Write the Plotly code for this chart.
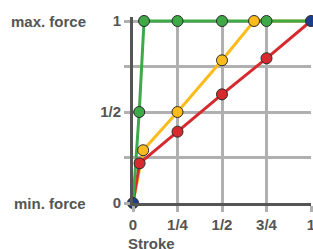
import plotly.graph_objects as go

# Data
stroke_green = [0, 0.035, 0.062, 0.25, 0.5, 0.75, 1]
force_green = [0, 0.5, 1, 1, 1, 1, 1]
stroke_yellow = [0, 0.057, 0.25, 0.5, 0.68, 1]
force_yellow = [0, 0.29, 0.5, 0.784, 1, 1]
stroke_red = [0, 0.037, 0.25, 0.5, 0.75, 1]
force_red = [0, 0.218, 0.392, 0.597, 0.795, 1]
stroke_blue = [0, 1]
force_blue = [0, 1]

tick_vals = [0, 0.25, 0.5, 0.75, 1]
x_tick_text = ["0", "1/4", "1/2", "3/4", "1"]
y_tick_text = ["0", "", "1/2", "", "1"]

GREEN = "#3daa47"
YELLOW = "#fbbb1b"
RED = "#d62a2f"
BLUE = "#1f3d8f"
TXT = "#555555"
GRID = "#b0b0b0"
FONT = dict(family="Liberation Sans, Arial, sans-serif", size=15, color=TXT, weight="bold")

fig = go.Figure()

# lines
for xs, ys, c in [(stroke_yellow, force_yellow, YELLOW),
                  (stroke_red, force_red, RED),
                  (stroke_green, force_green, GREEN)]:
    fig.add_trace(go.Scatter(x=xs, y=ys, mode="lines", line=dict(color=c, width=3),
                             hoverinfo="skip", showlegend=False))

# markers
for xs, ys, c in [(stroke_green[1:-1], force_green[1:-1], GREEN),
                  (stroke_yellow[1:-1], force_yellow[1:-1], YELLOW),
                  (stroke_red[1:-1], force_red[1:-1], RED),
                  (stroke_blue, force_blue, BLUE)]:
    fig.add_trace(go.Scatter(x=xs, y=ys, mode="markers", cliponaxis=False,
                             marker=dict(color=c, size=11, line=dict(color="#2a2a2a", width=1)),
                             showlegend=False))

# figure is 2px wider than the window; the page hides the overflow
W, H = 315, 249
L, T, B = 133, 17, 46
PW = W - L
PH = H - T - B
unit = 182.0

fig.update_layout(
    width=W, height=H,
    margin=dict(l=L, r=0, t=T, b=B, pad=0),
    plot_bgcolor="white", paper_bgcolor="white",
    font=FONT,
    xaxis=dict(range=[0, PW / unit], tickvals=tick_vals, ticktext=x_tick_text,
               showgrid=True, gridcolor=GRID, gridwidth=2.5, zeroline=False,
               showline=True, linecolor=TXT, linewidth=3,
               ticks="outside", ticklen=6, tickwidth=2.5, tickcolor=GRID,
               tickfont=FONT, ticklabeloverflow="allow", fixedrange=True),
    yaxis=dict(range=[0, PH / unit], tickvals=tick_vals, ticktext=y_tick_text,
               showgrid=True, gridcolor=GRID, gridwidth=2.5, zeroline=False,
               showline=True, linecolor=TXT, linewidth=3,
               ticks="outside", ticklen=6, tickwidth=2.5, tickcolor=GRID,
               tickfont=FONT, fixedrange=True),
    annotations=[
        dict(text="max. force", xref="paper", yref="y", x=-46 / PW, y=1,
             xanchor="right", yanchor="middle", showarrow=False, font=FONT),
        dict(text="min. force", xref="paper", yref="y", x=-46 / PW, y=0,
             xanchor="right", yanchor="middle", showarrow=False, font=FONT),
        dict(text="Stroke", xref="paper", yref="paper", x=-7 / PW, y=-40 / PH,
             xanchor="left", yanchor="middle", showarrow=False, font=FONT),
    ],
)

fig.write_html(
    "out.html",
    config={"displayModeBar": False},
    post_script="document.body.style.margin='0';document.body.style.overflow='hidden';",
)
